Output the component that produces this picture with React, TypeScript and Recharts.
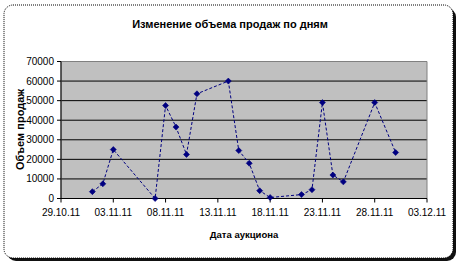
import React from 'react';
import { LineChart, Line, XAxis, YAxis, CartesianGrid, ReferenceArea } from 'recharts';

const dates = [
  '01.11.11', '02.11.11', '03.11.11', '07.11.11', '08.11.11', '09.11.11', '10.11.11',
  '11.11.11', '14.11.11', '15.11.11', '16.11.11', '17.11.11', '18.11.11', '21.11.11',
  '22.11.11', '23.11.11', '24.11.11', '25.11.11', '28.11.11', '30.11.11',
];
const sales = [
  3500, 7500, 25000, 0, 47500, 36500, 22500,
  53500, 60000, 24500, 18000, 4000, 500, 2000,
  4500, 49000, 12000, 8500, 49000, 23500,
];
const xTickLabels = ['29.10.11', '03.11.11', '08.11.11', '13.11.11', '18.11.11', '23.11.11', '28.11.11', '03.12.11'];
const yTicks = [0, 10000, 20000, 30000, 40000, 50000, 60000, 70000];

const title = 'Изменение объема продаж по дням';
const xTitle = 'Дата аукциона';
const yTitle = 'Объем продаж';

const toDay = (s: string) => {
  const [d, m, y] = s.split('.').map(Number);
  return Date.UTC(2000 + y, m - 1, d) / 86400000;
};
const origin = toDay(xTickLabels[0]);
const data = dates.map((d, i) => ({ day: toDay(d) - origin, sales: sales[i] }));
const xTicks = xTickLabels.map((l) => toDay(l) - origin);
const labelByDay = new Map(xTicks.map((t, i) => [t, xTickLabels[i]]));

const FONT = '"Liberation Sans", Arial, sans-serif';
const NAVY = '#000080';

const Diamond = (props: any) => {
  const { cx, cy } = props;
  if (cx == null || cy == null) return null;
  const r = 3;
  return (
    <path
      d={`M${cx},${cy - r}L${cx + r},${cy}L${cx},${cy + r}L${cx - r},${cy}Z`}
      fill={NAVY}
      stroke={NAVY}
      strokeWidth={0.6}
    />
  );
};

export default function App() {
  return (
    <div style={{ position: 'absolute', left: 0, top: 0, width: 462, height: 267, background: '#fff' }}>
      <svg width={462} height={267} style={{ position: 'absolute', left: 0, top: 0 }}>
        <rect x={7} y={8} width={449} height={253} rx={9} fill="#111" />
        <rect x={4} y={5} width={449} height={253} rx={9} fill="#fff" stroke="#000" strokeWidth={1} strokeDasharray="1 1" />
        <text x={230} y={25} textAnchor="middle" dominantBaseline="middle" fontFamily={FONT} fontSize={11} fontWeight="bold" fill="#000">
          {title}
        </text>
        <text x={244} y={235} textAnchor="middle" dominantBaseline="middle" fontFamily={FONT} fontSize={9.5} fontWeight="bold" fill="#000">
          {xTitle}
        </text>
        <text
          x={21}
          y={129.5}
          textAnchor="middle"
          dominantBaseline="middle"
          fontFamily={FONT}
          fontSize={11}
          fontWeight="bold"
          fill="#000"
          transform="rotate(-90 21 129.5)"
        >
          {yTitle}
        </text>
      </svg>
      <div style={{ position: 'absolute', left: 0, top: 0 }}>
        <LineChart width={462} height={267} data={data} margin={{ top: 61.5, right: 35, left: 0, bottom: 38.5 }}>
          <CartesianGrid vertical={false} stroke="#000" fill="#C0C0C0" fillOpacity={1} />
          <ReferenceArea x1={0} x2={35} y1={0} y2={70000} fill="none" stroke="#808080" strokeWidth={1} ifOverflow="visible" />
          <XAxis
            dataKey="day"
            type="number"
            domain={[0, 35]}
            ticks={xTicks}
            interval={0}
            tickFormatter={(v: number) => labelByDay.get(v) ?? ''}
            height={30}
            tickSize={4}
            tickMargin={6}
            axisLine={{ stroke: '#000' }}
            tickLine={{ stroke: '#000' }}
            tick={{ fill: '#000', fontSize: 10, fontFamily: FONT }}
          />
          <YAxis
            type="number"
            domain={[0, 70000]}
            ticks={yTicks}
            interval={0}
            width={61}
            tickSize={4}
            tickMargin={3}
            axisLine={{ stroke: '#000' }}
            tickLine={{ stroke: '#000' }}
            tick={{ fill: '#000', fontSize: 10, fontFamily: FONT }}
          />
          <Line
            type="linear"
            dataKey="sales"
            stroke={NAVY}
            strokeWidth={1}
            strokeDasharray="3 2"
            dot={<Diamond />}
            activeDot={false}
            isAnimationActive={false}
          />
        </LineChart>
      </div>
    </div>
  );
}
